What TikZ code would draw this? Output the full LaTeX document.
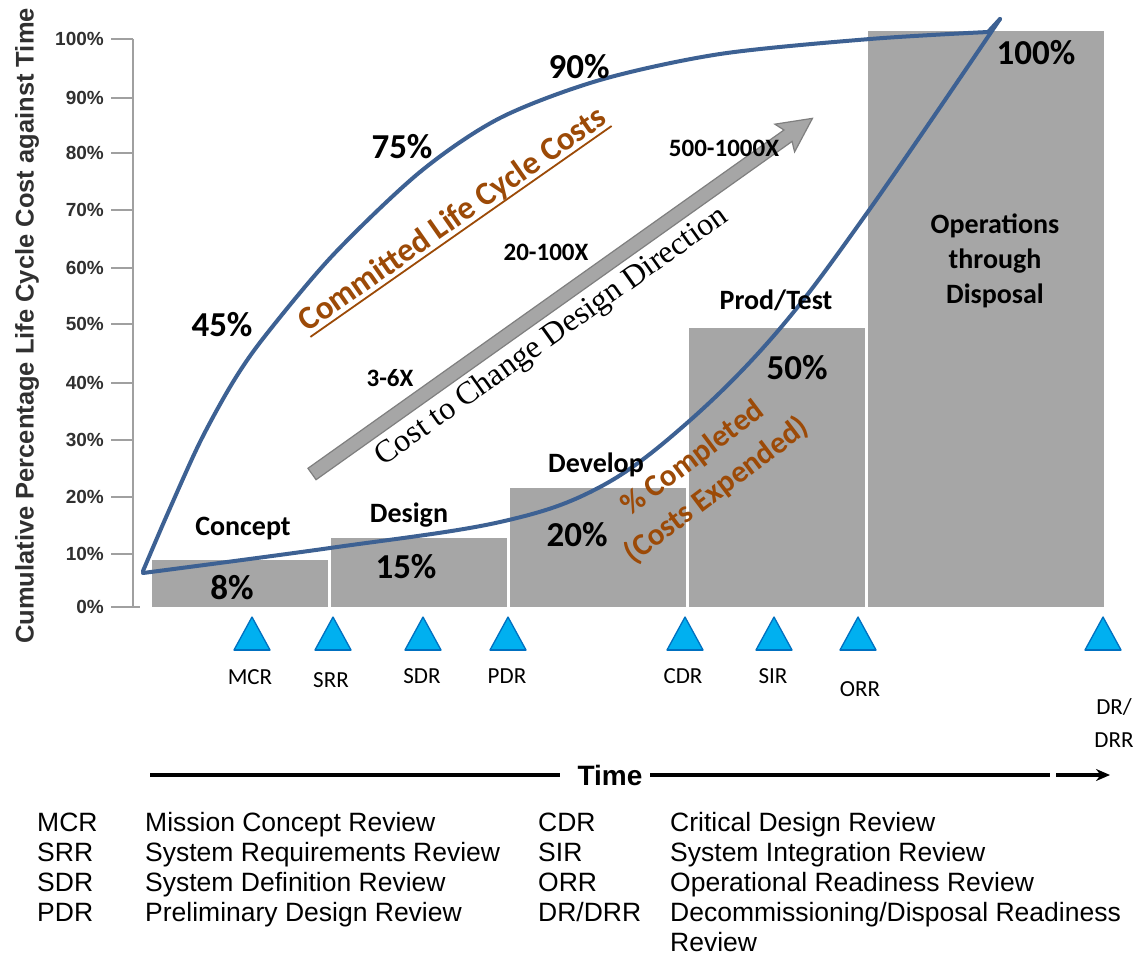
\documentclass[tikz,border=0pt]{standalone}
\usepackage{fontspec}
\setmainfont{Liberation Sans}
\newfontfamily\calfont{Carlito}
\newfontfamily\timesfont{Liberation Serif}
\usetikzlibrary{arrows.meta,calc}
\definecolor{curveblue}{HTML}{3D6193}
\definecolor{brownt}{HTML}{9C4A07}
\definecolor{bargray}{HTML}{A6A6A6}
\definecolor{arrgray}{HTML}{A6A6A6}
\definecolor{arredge}{HTML}{7F7F7F}
\definecolor{triblue}{HTML}{00B0F0}
\definecolor{triedge}{HTML}{0070C0}
\definecolor{tickgray}{HTML}{303030}
\definecolor{axisgray}{HTML}{A0A0A0}
\begin{document}
\begin{tikzpicture}[x=1pt,y=-1pt,
  pct/.style={font=\calfont\bfseries\fontsize{35}{42}\selectfont, inner sep=0},
  phase/.style={font=\calfont\bfseries\fontsize{28}{35}\selectfont, inner sep=0},
  mult/.style={font=\calfont\bfseries\fontsize{25}{30}\selectfont, inner sep=0},
  rev/.style={font=\calfont\fontsize{23}{33}\selectfont, inner sep=0},
  leg/.style={font=\fontsize{26.5}{30}\selectfont, anchor=base west, inner sep=0},
  tick/.style={font=\bfseries\fontsize{19}{22}\selectfont, anchor=east, inner sep=0, text=tickgray},
  bar/.style={fill=bargray, draw=none},
  curve/.style={draw=curveblue, line width=4, line cap=round, line join=round},
  tri/.style={fill=triblue, draw=triedge, line width=1.3, line join=round}
]
\useasboundingbox (0,0) rectangle (1139,955);
\fill[white] (0,0) rectangle (1139,955);

% y axis
\draw[axisgray, line width=2.5] (133,39) -- (133,607);
\foreach \v/\y in {100/39,90/98,80/153,70/210,60/268,50/324,40/383,30/440,20/497,10/554}{
  \draw[axisgray, line width=2.5] (111,\y) -- (133,\y);
  \node[tick] (t\v) at (104,\y) {\v\%};
}
\draw[axisgray, line width=2.5] (111,607) -- (140,607);
\node[tick] (t0) at (104,607) {0\%};
\node[rotate=90, font=\bfseries\fontsize{25.5}{30}\selectfont, text=tickgray, inner sep=0] (ytitle) at (27,326) {Cumulative Percentage Life Cycle Cost against Time};

% bars
\path[bar] (152,560) rectangle (328,607);
\path[bar] (331,538) rectangle (507,607);
\path[bar] (510,488) rectangle (686,607);
\path[bar] (689,328) rectangle (865,607);
\path[bar] (868,31) rectangle (1104,607);

% gray arrow
\begin{scope}[shift={(312,474)}, rotate=35.4]
\path[fill=arrgray, draw=arredge, line width=1.2, line join=miter]
  (0,-7) -- (584,-7) -- (580,-17) -- (614,0) -- (580,17) -- (584,7) -- (0,7) -- cycle;
\end{scope}

% curves
\draw[curve] plot[smooth] coordinates {(143,571) (167,515) (200,442) (233,382) (265,336) (333,255) (420,172) (500,118) (600,80) (720,54) (870,39) (988,32)} -- (1000,19);
\draw[curve] plot[smooth, tension=0.6] coordinates {(143,573) (330,548) (500,522) (600,487) (687,423) (777,332) (867,213) (1000,19)};

% percentages
\node[pct] (p45) at (222,325) {45\%};
\node[pct] (p75) at (402,147) {75\%};
\node[pct] (p90) at (579,67) {90\%};
\node[pct] (p100) at (1036,53) {100\%};
\node[pct] (p8) at (232,588) {8\%};
\node[pct] (p15) at (406,567) {15\%};
\node[pct] (p20) at (577,535) {20\%};
\node[pct] (p50) at (797,368) {50\%};

% phases
\node[phase] (concept) at (243,529) {Concept};
\node[phase] (design) at (409,515) {Design};
\node[phase] (develop) at (596,465) {Develop};
\node[phase] (prod) at (776,300) {Prod/Test};
\node[phase, align=center] (ops) at (995,261) {Operations\\through\\Disposal};

% multipliers
\node[mult] (m1) at (390,378) {3-6X};
\node[mult] (m2) at (546,252) {20-100X};
\node[mult] (m3) at (724,148) {500-1000X};

% rotated labels
\node[rotate=35, text=brownt, font=\calfont\bfseries\fontsize{33}{40}\selectfont, inner sep=0] (committed) at (453,220) {Committed Life Cycle Costs};
\draw[brownt, line width=1.8]
  ($(committed.base west)!5pt!-90:(committed.base east)$) --
  ($(committed.base east)!5pt!90:(committed.base west)$);
\node[rotate=35.5, font=\timesfont\fontsize{32}{38}\selectfont, inner sep=0] (costchange) at (552,337) {Cost to Change Design Direction};
\node[rotate=37, text=brownt, align=center, font=\calfont\bfseries\fontsize{31}{40}\selectfont, inner sep=0] (completed) at (705,475) {\% Completed\\(Costs Expended)};

% review triangles
\foreach \x/\n in {252/mcr,333/srr,423/sdr,508/pdr,685/cdr,774/sir,858/orr,1103/drr}{
  \path[tri] (\x,617) -- (\x+18,650) -- (\x-18,650) -- cycle;
  \draw[triedge, line width=2.5] (\x-18,650) -- (\x+18,650);
}
\node[rev] (lmcr) at (250,677) {MCR};
\node[rev] (lsrr) at (331,680) {SRR};
\node[rev] (lsdr) at (422,676) {SDR};
\node[rev] (lpdr) at (507,676) {PDR};
\node[rev] (lcdr) at (683,676) {CDR};
\node[rev] (lsir) at (773,676) {SIR};
\node[rev] (lorr) at (860,689) {ORR};
\node[rev, align=center] (ldrr) at (1114,723) {DR/\\DRR};

% time axis
\node[font=\bfseries\fontsize{28}{32}\selectfont, inner sep=0] (time) at (610,775) {Time};
\coordinate (tl) at (150,775);
\coordinate (tl2) at (560,775);
\coordinate (tr1) at (650,775);
\coordinate (tr2) at (1050,775);
\coordinate (ta1) at (1056,775);
\coordinate (ta2) at (1110,775);
\draw[line width=3.5] (tl) -- (tl2);
\draw[line width=3.5] (tr1) -- (tr2);
\draw[line width=3.5, -{Stealth[length=14,width=12]}] (ta1) -- (ta2);

% legend
\node[leg] (a1) at (37,831) {MCR};
\node[leg] (a2) at (37,861) {SRR};
\node[leg] (a3) at (37,891) {SDR};
\node[leg] (a4) at (37,921) {PDR};
\node[leg] (d1) at (145,831) {Mission Concept Review};
\node[leg] (d2) at (145,861) {System Requirements Review};
\node[leg] (d3) at (145,891) {System Definition Review};
\node[leg] (d4) at (145,921) {Preliminary Design Review};
\node[leg] (a5) at (538,831) {CDR};
\node[leg] (a6) at (538,861) {SIR};
\node[leg] (a7) at (538,891) {ORR};
\node[leg] (a8) at (538,921) {DR/DRR};
\node[leg] (d5) at (670,831) {Critical Design Review};
\node[leg] (d6) at (670,861) {System Integration Review};
\node[leg] (d7) at (670,891) {Operational Readiness Review};
\node[leg] (d8) at (670,921) {Decommissioning/Disposal Readiness};
\node[leg] (d9) at (670,951) {Review};
\end{tikzpicture}
\end{document}
